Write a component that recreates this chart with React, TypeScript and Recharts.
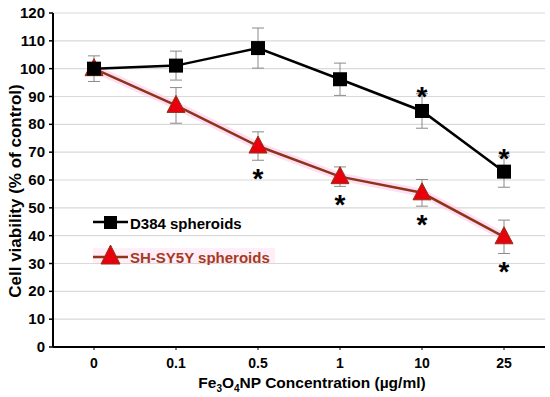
import React from 'react'
import {
  LineChart,
  Line,
  XAxis,
  YAxis,
  CartesianGrid,
  ErrorBar,
  LabelList,
} from 'recharts'

// Datos
const concentrations = ['0', '0.1', '0.5', '1', '10', '25']
const d384Values = [100, 101.1, 107.4, 96.2, 84.8, 63.0]
const d384Errors = [4.6, 5.2, 7.2, 5.8, 6.2, 5.6]
const d384Signif = [false, false, false, false, true, true]
const shsyValues = [100, 86.8, 72.2, 61.2, 55.4, 39.6]
const shsyErrors = [0, 6.4, 5.1, 3.5, 4.8, 6.0]
const shsySignif = [false, false, true, true, true, true]
const yTicks = [0, 10, 20, 30, 40, 50, 60, 70, 80, 90, 100, 110, 120]

const data = concentrations.map((c, i) => ({
  conc: c,
  d384: d384Values[i],
  d384Err: d384Errors[i],
  shsy: shsyValues[i],
  shsyErr: shsyErrors[i],
}))

const W = 550
const H = 397
const M = { top: 13, right: 5, left: 0, bottom: 0 }
const X_AXIS_H = 50
const PX_PER_UNIT = (H - M.top - M.bottom - X_AXIS_H) / 120

const FONT = 'Arial, "Liberation Sans", sans-serif'
const LINE_BROWN = '#8e3418'
const TRI_RED = '#e8000c'
const TEXT_BROWN = '#a73a22'

const SquareDot = (props: any) => {
  const { cx, cy } = props
  if (cx == null || cy == null) return null
  return <rect x={cx - 7} y={cy - 7} width={14} height={14} fill="#000" />
}

const TriangleDot = (props: any) => {
  const { cx, cy } = props
  if (cx == null || cy == null) return null
  const s = 9
  return (
    <polygon
      points={`${cx},${cy - s - 1} ${cx - s},${cy + s - 2} ${cx + s},${cy + s - 2}`}
      fill={TRI_RED}
      stroke={LINE_BROWN}
      strokeWidth={1}
    />
  )
}

const Star = ({ x, y }: { x: number; y: number }) => (
  <text
    x={x}
    y={y}
    textAnchor="middle"
    fontFamily={FONT}
    fontWeight="bold"
    fontSize={28}
    fill="#000"
  >
    *
  </text>
)

const d384Star = (props: any) => {
  const { x, y, index } = props
  if (!d384Signif[index]) return null
  const top = y - d384Errors[index] * PX_PER_UNIT
  return <Star key={`ds-${index}`} x={x} y={top + 12} />
}

const shsyStar = (props: any) => {
  const { x, y, index } = props
  if (!shsySignif[index]) return null
  const bottom = y + shsyErrors[index] * PX_PER_UNIT
  return <Star key={`ss-${index}`} x={x} y={bottom + 28} />
}

const XTick = (props: any) => {
  const { x, y, payload } = props
  return (
    <text
      x={x}
      y={y + 16}
      textAnchor="middle"
      fontFamily={FONT}
      fontWeight="bold"
      fontSize={14}
      fill="#000"
    >
      {payload.value}
    </text>
  )
}

const YTick = (props: any) => {
  const { x, y, payload } = props
  return (
    <text
      x={x - 2}
      y={y + 5}
      textAnchor="end"
      fontFamily={FONT}
      fontWeight="bold"
      fontSize={15}
      fill="#000"
    >
      {payload.value}
    </text>
  )
}

const YLabel = () => (
  <text
    x={15}
    y={191}
    transform="rotate(-90 15 191)"
    textAnchor="middle"
    dominantBaseline="central"
    fontFamily={FONT}
    fontWeight="bold"
    fontSize={17}
    fill="#000"
  >
    Cell viability (% of control)
  </text>
)

const XLabel = () => (
  <text
    x={312}
    y={388}
    textAnchor="middle"
    fontFamily={FONT}
    fontWeight="bold"
    fontSize={15.5}
    fill="#000"
  >
    Fe
    <tspan fontSize={10} dy={4}>3</tspan>
    <tspan dy={-4}>O</tspan>
    <tspan fontSize={10} dy={4}>4</tspan>
    <tspan dy={-4}>NP Concentration (µg/ml)</tspan>
  </text>
)

function LegendBox() {
  return (
    <svg
      width={230}
      height={60}
      style={{ position: 'absolute', left: 85, top: 205 }}
    >
      <line x1={8} y1={17} x2={43} y2={17} stroke="#000" strokeWidth={2.5} />
      <rect x={19} y={11} width={13} height={13} fill="#000" />
      <text x={45} y={24} fontFamily={FONT} fontWeight="bold" fontSize={15} fill="#000">
        D384 spheroids
      </text>
      <rect x={8} y={43} width={182} height={15} fill="#ffd6ee" opacity={0.45} />
      <line x1={8} y1={52} x2={43} y2={52} stroke={LINE_BROWN} strokeWidth={2.5} />
      <polygon points="25.5,40 16,59 35,59" fill={TRI_RED} stroke={LINE_BROWN} strokeWidth={1} />
      <text x={45} y={58} fontFamily={FONT} fontWeight="bold" fontSize={15} fill={TEXT_BROWN}>
        SH-SY5Y spheroids
      </text>
    </svg>
  )
}

export default function App() {
  return (
    <div style={{ position: 'absolute', left: 0, top: 0, width: W, height: H, background: '#fff' }}>
      <LineChart width={W} height={H} data={data} margin={M}>
        <CartesianGrid vertical={false} stroke="#d9d9d9" strokeWidth={1.2} />
        <XAxis
          dataKey="conc"
          height={X_AXIS_H}
          padding={{ left: 41, right: 41 }}
          axisLine={{ stroke: '#000', strokeWidth: 2 }}
          tickLine={{ stroke: '#000' }}
          tickSize={3}
          tick={<XTick />}
          interval={0}
        />
        <YAxis
          width={53}
          domain={[0, 120]}
          ticks={yTicks}
          interval={0}
          axisLine={{ stroke: '#000', strokeWidth: 2 }}
          tickLine={{ stroke: '#000', strokeWidth: 1.5 }}
          tickSize={4}
          tick={<YTick />}
        />
        <Line
          dataKey="shsy"
          stroke="#ffc2ea"
          strokeWidth={8}
          strokeOpacity={0.55}
          dot={false}
          activeDot={false}
          isAnimationActive={false}
          legendType="none"
        />
        <Line
          dataKey="shsy"
          stroke={LINE_BROWN}
          strokeWidth={2.5}
          dot={<TriangleDot />}
          activeDot={false}
          isAnimationActive={false}
        >
          <ErrorBar dataKey="shsyErr" width={6} strokeWidth={1} stroke="#8a8a8a" />
          <LabelList dataKey="shsy" content={shsyStar} />
        </Line>
        <Line
          dataKey="d384"
          stroke="#000"
          strokeWidth={2.5}
          dot={<SquareDot />}
          activeDot={false}
          isAnimationActive={false}
        >
          <ErrorBar dataKey="d384Err" width={6} strokeWidth={1} stroke="#8a8a8a" />
          <LabelList dataKey="d384" content={d384Star} />
        </Line>
      </LineChart>
      <svg width={W} height={H} style={{ position: 'absolute', left: 0, top: 0, pointerEvents: 'none' }}>
        <YLabel />
        <XLabel />
      </svg>
      <LegendBox />
    </div>
  )
}
